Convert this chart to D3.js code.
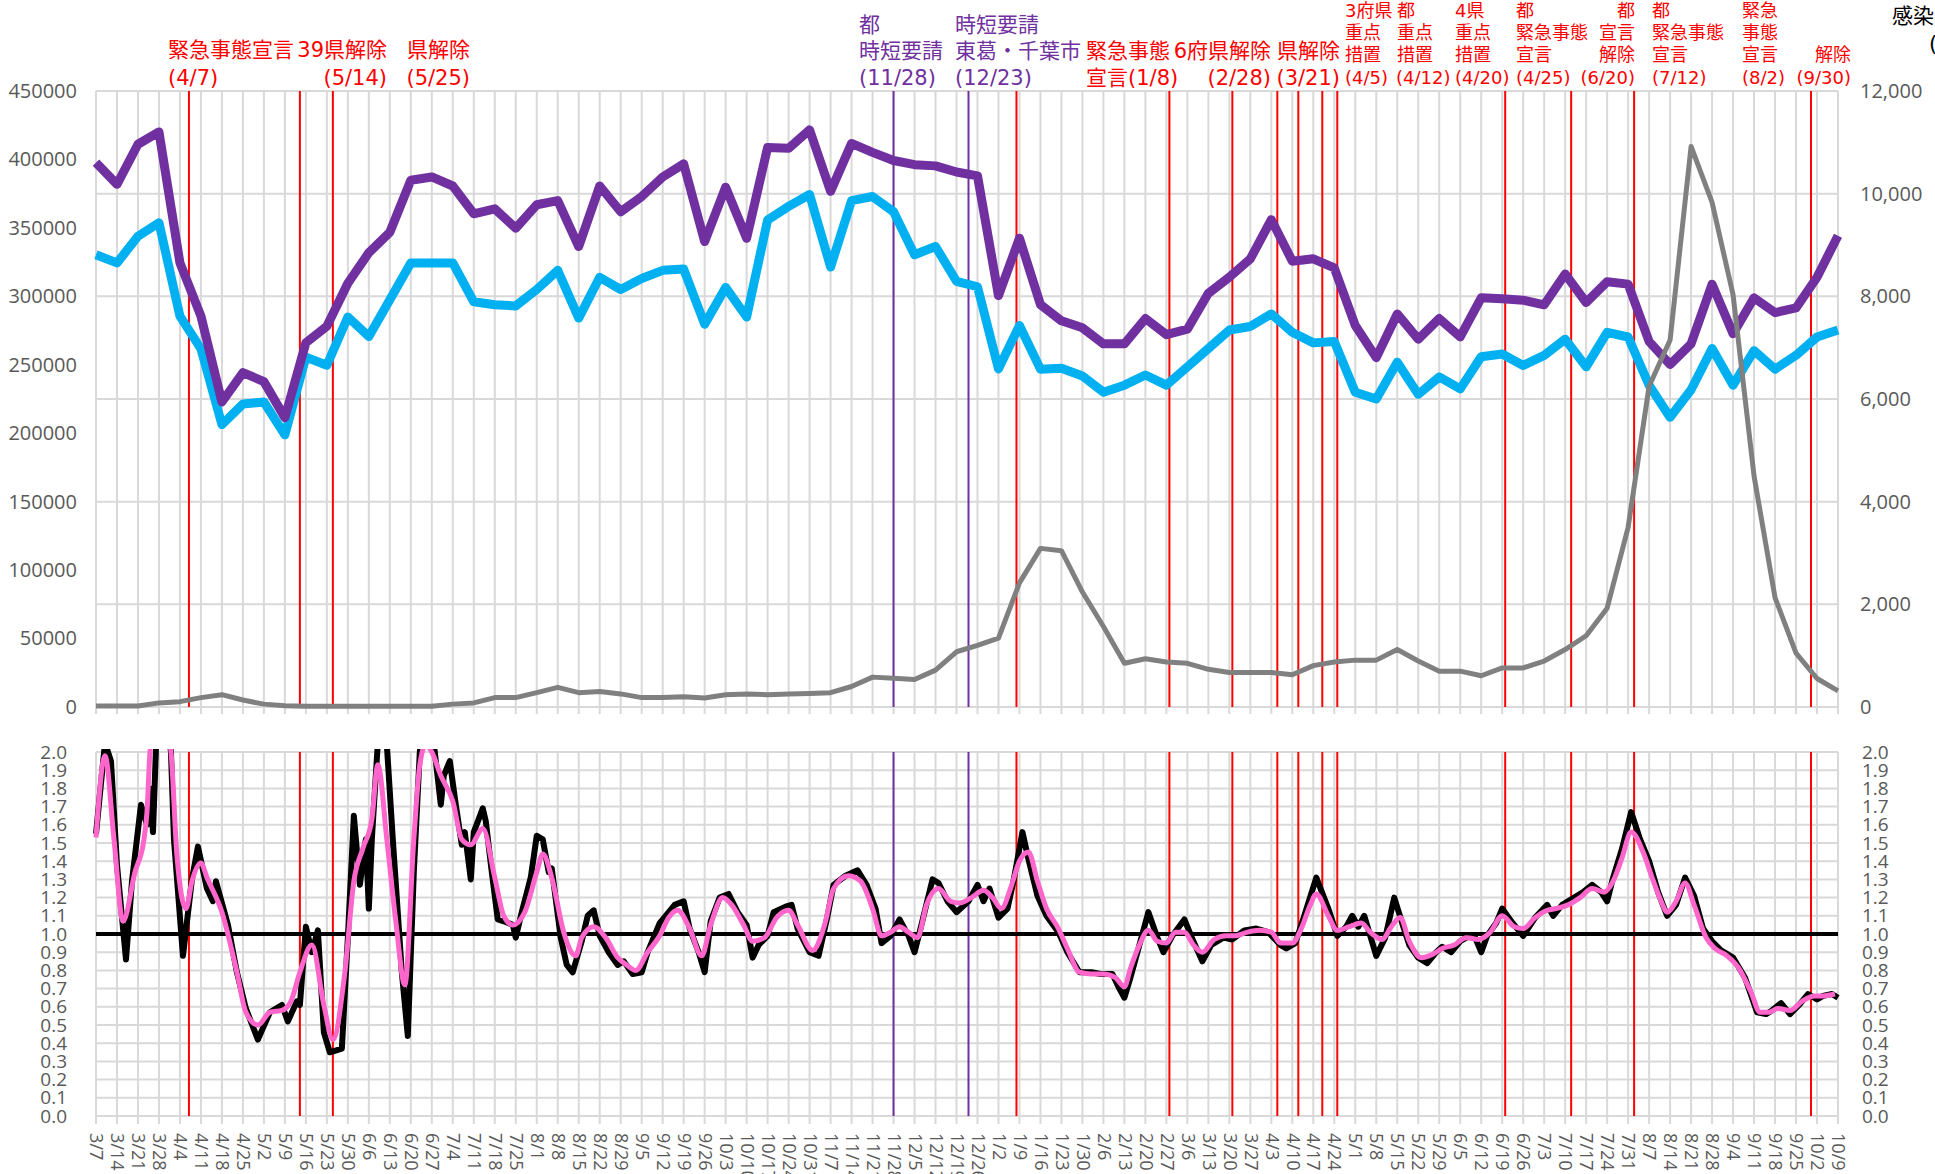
<!DOCTYPE html>
<html>
<head>
<meta charset="utf-8">
<style>
body { margin: 0; background: #fff; }
svg text { font-family: "DejaVu Sans", "Noto Sans CJK JP", sans-serif; }
.axis text { font-family: "Open Sans", sans-serif; fill: #595959; }
.grid line { stroke: #d9d9d9; stroke-width: 2px; }
</style>
<script src="https://d3js.org/d3.v7.min.js"></script>
</head>
<body>
<script>
// weekly series, first week 2020-03-07, last 2021-10-09
var startDate = new Date(2020, 2, 7);
var nWeeks = 84;

// purple line (left axis)
var flowPurple = [397700, 381800, 411100, 420100, 324400, 285500, 222800, 244300, 237700, 211400,
  266100, 278100, 309500, 331900, 346800, 384800, 387200, 380600, 360300, 363900,
  349800, 366900, 369900, 336400, 380600, 361800, 372900, 387200, 396800, 340000,
  379700, 342400, 408700, 408100, 421600, 376700, 411700, 405200, 399200, 396200,
  395300, 390800, 388000, 300500, 342500, 293900, 282100, 277000, 265300, 265300,
  283800, 272000, 276000, 302200, 314000, 327400, 356000, 325700, 327400, 320700,
  278700, 255200, 287100, 268700, 283800, 270300, 298900, 298200, 297200, 293800,
  316300, 295500, 310600, 308900, 267000, 250200, 265300, 308900, 272700, 298900,
  288100, 291500, 314000, 344200];

// blue line (left axis)
var flowBlue = [330400, 324400, 343900, 353700, 285500, 261600, 206300, 221300, 222800, 198800,
  255600, 249700, 284900, 270600, 297500, 324400, 324400, 324400, 296000, 293900,
  293000, 305000, 319000, 284100, 313900, 305000, 313000, 319000, 319900, 279600,
  306500, 284900, 355800, 365700, 374400, 321400, 369900, 372900, 361800, 330400,
  336400, 311000, 307000, 247000, 278700, 246800, 247500, 241800, 230000, 235100,
  242500, 235100, 248500, 261900, 275400, 278000, 287100, 273700, 266000, 267000,
  230000, 225000, 251900, 228400, 241100, 232400, 255900, 257900, 249500, 256900,
  268700, 248500, 273700, 270300, 235100, 211600, 231700, 261900, 235100, 260300,
  246800, 256900, 270300, 275400];

// gray line (right axis, cases)
var cases = [20, 20, 20, 80, 104, 183, 240, 136, 56, 24,
  15, 15, 15, 15, 15, 15, 15, 56, 80, 183,
  183, 279, 383, 279, 303, 255, 183, 183, 199, 175,
  240, 255, 240, 255, 263, 279, 399, 582, 558, 534,
  718, 1076, 1200, 1343, 2418, 3090, 3045, 2239, 1567, 851,
  940, 878, 851, 734, 672, 672, 672, 627, 806, 878,
  913, 913, 1119, 896, 698, 698, 609, 761, 761, 896,
  1119, 1388, 1925, 3500, 6250, 7150, 10920, 9830, 8030, 4500,
  2130, 1050, 555, 313];

// lower chart: [day since 2020-03-07, value]
var rtDaily = [[0,1.55],[3,2.05],[5,1.95],[7,1.38],[10,0.86],[12,1.29],[15,1.71],[17,1.6],[18,1.8],[19,1.56],
  [20,2.02],[22,2.4],[25,2.0],[26,1.52],[29,0.88],[32,1.3],[34,1.48],[37,1.25],[39,1.18],[40,1.29],
  [44,1.05],[47,0.79],[50,0.59],[54,0.42],[58,0.57],[62,0.61],[64,0.52],[67,0.63],[68,0.61],[70,1.04],
  [72,0.9],[74,1.02],[76,0.46],[78,0.35],[82,0.37],[84,0.98],[86,1.65],[88,1.27],[90,1.52],[91,1.14],
  [92,1.52],[94,2.05],[96,2.3],[99,1.52],[102,0.79],[104,0.44],[106,1.34],[108,2.0],[110,2.3],[113,2.0],
  [115,1.71],[116,1.87],[118,1.95],[120,1.71],[122,1.49],[123,1.56],[125,1.3],[126,1.56],[129,1.69],[130,1.62],
  [132,1.34],[134,1.08],[136,1.07],[139,1.05],[140,0.98],[142,1.12],[145,1.31],[147,1.54],[149,1.52],[151,1.34],
  [152,1.36],[155,0.98],[157,0.83],[159,0.79],[162,0.96],[164,1.1],[166,1.13],[168,0.99],[171,0.9],[174,0.83],
  [176,0.85],[179,0.78],[182,0.79],[184,0.9],[188,1.06],[190,1.1],[193,1.16],[196,1.18],[198,1.03],[201,0.9],
  [203,0.79],[205,1.07],[208,1.2],[211,1.22],[214,1.12],[217,1.05],[219,0.87],[221,0.94],[224,0.99],[226,1.12],
  [230,1.15],[232,1.16],[234,1.03],[238,0.9],[241,0.88],[244,1.1],[246,1.27],[250,1.32],[254,1.35],[257,1.27],
  [260,1.14],[262,0.95],[265,0.99],[268,1.08],[271,0.99],[273,0.9],[275,1.03],[279,1.3],[281,1.28],[284,1.18],
  [287,1.12],[291,1.18],[294,1.27],[296,1.18],[298,1.25],[301,1.09],[304,1.14],[306,1.29],[309,1.56],[311,1.41],
  [314,1.21],[317,1.1],[321,1.01],[324,0.9],[328,0.79],[332,0.79],[335,0.78],[339,0.78],[341,0.71],[343,0.65],
  [345,0.76],[348,0.94],[351,1.12],[354,0.98],[356,0.9],[359,0.99],[363,1.08],[366,0.96],[369,0.85],[372,0.94],
  [376,0.98],[379,0.97],[383,1.02],[387,1.03],[391,1.01],[395,0.94],[397,0.92],[400,0.95],[403,1.1],[407,1.31],
  [411,1.14],[414,0.99],[417,1.04],[419,1.1],[421,1.04],[423,1.1],[425,0.99],[427,0.88],[430,0.98],[433,1.2],
  [436,1.04],[438,0.94],[441,0.87],[444,0.84],[447,0.9],[449,0.93],[452,0.9],[455,0.96],[458,0.99],[460,0.98],
  [462,0.9],[464,0.99],[467,1.06],[469,1.14],[472,1.07],[474,1.03],[476,0.99],[480,1.09],[484,1.16],[486,1.1],
  [489,1.16],[493,1.2],[496,1.23],[499,1.27],[502,1.23],[504,1.18],[506,1.31],[509,1.47],[512,1.67],[515,1.52],
  [518,1.4],[521,1.23],[524,1.1],[527,1.16],[530,1.31],[533,1.21],[536,1.03],[539,0.96],[542,0.91],[546,0.87],
  [550,0.76],[554,0.57],[557,0.56],[559,0.58],[562,0.62],[565,0.56],[568,0.61],[571,0.67],[574,0.64],[576,0.66],
  [579,0.67],[581,0.65]];

var rtSmooth = [[0,1.53],[3,1.98],[6,1.52],[9,1.07],[13,1.34],[16,1.52],[17,1.67],[18,2.0],[21,2.3],[25,2.0],
  [27,1.43],[30,1.14],[32,1.29],[35,1.39],[37,1.31],[42,1.12],[47,0.79],[50,0.57],[54,0.5],[58,0.57],
  [62,0.58],[65,0.63],[68,0.79],[72,0.94],[76,0.61],[79,0.42],[83,0.79],[86,1.29],[89,1.47],[92,1.63],
  [94,1.93],[97,1.52],[100,1.07],[103,0.72],[106,1.52],[108,1.93],[110,2.04],[112,2.0],[115,1.87],[119,1.73],
  [122,1.52],[125,1.49],[129,1.58],[133,1.31],[136,1.1],[139,1.05],[143,1.12],[147,1.34],[149,1.44],[152,1.31],
  [156,1.01],[160,0.88],[162,0.98],[166,1.04],[170,0.98],[174,0.87],[177,0.83],[180,0.8],[184,0.9],[188,0.99],
  [191,1.09],[194,1.13],[198,1.03],[202,0.88],[205,1.05],[209,1.2],[212,1.16],[216,1.05],[219,0.96],[223,0.98],
  [227,1.09],[231,1.13],[234,1.05],[239,0.91],[243,1.05],[246,1.25],[251,1.32],[255,1.29],[259,1.14],[262,0.99],
  [265,1.01],[268,1.04],[271,1.01],[274,0.98],[277,1.16],[281,1.25],[285,1.18],[288,1.17],[292,1.2],[296,1.24],
  [299,1.2],[302,1.14],[305,1.25],[308,1.4],[311,1.45],[314,1.29],[317,1.14],[321,1.03],[324,0.92],[328,0.79],
  [332,0.78],[336,0.78],[340,0.76],[343,0.71],[345,0.81],[348,0.94],[351,1.02],[354,0.96],[357,0.95],[360,1.01],
  [363,1.01],[366,0.94],[369,0.9],[373,0.97],[377,0.99],[380,0.99],[384,1.01],[388,1.02],[392,1.01],[395,0.95],
  [399,0.95],[402,1.03],[405,1.16],[407,1.22],[411,1.1],[414,1.02],[418,1.04],[422,1.06],[425,1.01],[429,0.97],
  [432,1.04],[435,1.09],[438,0.96],[442,0.87],[446,0.89],[449,0.92],[453,0.94],[457,0.98],[461,0.97],[465,1.01],
  [469,1.1],[473,1.04],[476,1.03],[480,1.09],[484,1.13],[487,1.14],[491,1.16],[495,1.2],[499,1.25],[503,1.23],
  [506,1.29],[509,1.42],[512,1.56],[516,1.45],[519,1.31],[522,1.18],[524,1.12],[527,1.18],[530,1.28],[533,1.16],
  [537,0.98],[540,0.92],[544,0.88],[548,0.81],[552,0.68],[555,0.57],[558,0.57],[561,0.59],[565,0.58],[569,0.63],
  [573,0.66],[576,0.66],[580,0.67]];

// event lines
var redEvents = ["2020-04-07", "2020-05-14", "2020-05-25", "2021-01-08", "2021-02-28", "2021-03-21",
  "2021-04-05", "2021-04-12", "2021-04-20", "2021-04-25", "2021-06-20", "2021-07-12", "2021-08-02", "2021-09-30"];
var purpleEvents = ["2020-11-28", "2020-12-23"];

// annotation text [text, x, y, anchor, size, color]
var RED = "#ff0000", PUR = "#7030a0";
var notes = [
  ["緊急事態宣言", 168, 57, "start", 21, RED], ["(4/7)", 168, 85, "start", 21, RED],
  ["39県解除", 387, 57, "end", 21, RED], ["(5/14)", 387, 85, "end", 21, RED],
  ["県解除", 470, 57, "end", 21, RED], ["(5/25)", 470, 85, "end", 21, RED],
  ["都", 859, 32, "start", 21, PUR], ["時短要請", 859, 58, "start", 21, PUR], ["(11/28)", 859, 85, "start", 21, PUR],
  ["時短要請", 955, 32, "start", 21, PUR], ["東葛・千葉市", 955, 58, "start", 21, PUR], ["(12/23)", 955, 85, "start", 21, PUR],
  ["緊急事態", 1086, 58, "start", 21, RED], ["宣言(1/8)", 1086, 85, "start", 21, RED],
  ["6府県解除", 1271, 58, "end", 21, RED], ["(2/28)", 1271, 85, "end", 21, RED],
  ["県解除", 1340, 58, "end", 21, RED], ["(3/21)", 1340, 85, "end", 21, RED],
  ["3府県", 1345, 17, "start", 18, RED], ["重点", 1345, 39, "start", 18, RED], ["措置", 1345, 61, "start", 18, RED], ["(4/5)", 1345, 84, "start", 18, RED],
  ["都", 1397, 17, "start", 18, RED], ["重点", 1397, 39, "start", 18, RED], ["措置", 1397, 61, "start", 18, RED], ["(4/12)", 1396, 84, "start", 18, RED],
  ["4県", 1455, 17, "start", 18, RED], ["重点", 1455, 39, "start", 18, RED], ["措置", 1455, 61, "start", 18, RED], ["(4/20)", 1455, 84, "start", 18, RED],
  ["都", 1516, 17, "start", 18, RED], ["緊急事態", 1516, 39, "start", 18, RED], ["宣言", 1516, 61, "start", 18, RED], ["(4/25)", 1516, 84, "start", 18, RED],
  ["都", 1635, 17, "end", 18, RED], ["宣言", 1635, 39, "end", 18, RED], ["解除", 1635, 61, "end", 18, RED], ["(6/20)", 1635, 84, "end", 18, RED],
  ["都", 1652, 17, "start", 18, RED], ["緊急事態", 1652, 39, "start", 18, RED], ["宣言", 1652, 61, "start", 18, RED], ["(7/12)", 1652, 84, "start", 18, RED],
  ["緊急", 1742, 17, "start", 18, RED], ["事態", 1742, 39, "start", 18, RED], ["宣言", 1742, 61, "start", 18, RED], ["(8/2)", 1742, 84, "start", 18, RED],
  ["解除", 1851, 61, "end", 18, RED], ["(9/30)", 1851, 84, "end", 18, RED],
  ["感染者数", 1892, 23, "start", 21, "#000"], ["(人)", 1929, 51, "start", 21, "#000"]
];

var W = 1935, H = 1174;
var svg = d3.select("body").append("svg").attr("width", W).attr("height", H)
  .style("display", "block");

var weeks = d3.range(nWeeks).map(i => d3.timeDay.offset(startDate, 7 * i));
var dayDate = d => d3.timeDay.offset(startDate, d);
var parse = d3.timeParse("%Y-%m-%d");

var x = d3.scaleTime().domain([startDate, weeks[nWeeks - 1]]).range([96, 1838]);
var yL = d3.scaleLinear().domain([0, 450000]).range([707, 91]);
var yR = d3.scaleLinear().domain([0, 12000]).range([707, 91]);
var yB = d3.scaleLinear().domain([0, 2]).range([1116, 752]);

// ---- grids
var grid = svg.append("g").attr("class", "grid");
grid.selectAll(".vt").data(weeks).enter().append("line")
  .attr("x1", d => x(d)).attr("x2", d => x(d)).attr("y1", yR(12000)).attr("y2", 714);
grid.selectAll(".ht").data(d3.range(0, 12001, 2000)).enter().append("line")
  .attr("x1", x.range()[0]).attr("x2", x.range()[1]).attr("y1", d => yR(d)).attr("y2", d => yR(d));
grid.selectAll(".vb").data(weeks).enter().append("line")
  .attr("x1", d => x(d)).attr("x2", d => x(d)).attr("y1", yB(2)).attr("y2", 1124);
grid.selectAll(".hb").data(d3.range(0, 21)).enter().append("line")
  .attr("x1", x.range()[0]).attr("x2", x.range()[1]).attr("y1", d => yB(d / 10)).attr("y2", d => yB(d / 10));

// ---- event lines
function eventLines(list, color) {
  list.forEach(function(s) {
    var px = x(parse(s));
    svg.append("line").attr("x1", px).attr("x2", px).attr("y1", yR(12000)).attr("y2", yR(0))
      .attr("stroke", color).attr("stroke-width", 2);
    svg.append("line").attr("x1", px).attr("x2", px).attr("y1", yB(2)).attr("y2", yB(0))
      .attr("stroke", color).attr("stroke-width", 2);
  });
}
eventLines(redEvents, RED);
eventLines(purpleEvents, PUR);

// ---- axes
function styleAxis(g, size) {
  g.attr("class", "axis").select(".domain").remove();
  g.selectAll("text").attr("font-size", size);
}
svg.append("g").attr("transform", "translate(96,0)")
  .call(d3.axisLeft(yL).tickValues(d3.range(0, 450001, 50000)).tickSize(0).tickPadding(19).tickFormat(d3.format("d")))
  .call(g => styleAxis(g, 20));
svg.append("g").attr("transform", "translate(1838,0)")
  .call(d3.axisRight(yR).tickValues(d3.range(0, 12001, 2000)).tickSize(0).tickPadding(22).tickFormat(d3.format(",")))
  .call(g => styleAxis(g, 20));
svg.append("g").attr("transform", "translate(96,0)")
  .call(d3.axisLeft(yB).tickValues(d3.range(0, 21).map(d => d / 10)).tickSize(0).tickPadding(29).tickFormat(d3.format(".1f")))
  .call(g => styleAxis(g, 19));
svg.append("g").attr("transform", "translate(1838,0)")
  .call(d3.axisRight(yB).tickValues(d3.range(0, 21).map(d => d / 10)).tickSize(0).tickPadding(24).tickFormat(d3.format(".1f")))
  .call(g => styleAxis(g, 19));

var xAxis = svg.append("g").attr("transform", "translate(0,1116)")
  .call(d3.axisBottom(x).tickValues(weeks).tickSize(0).tickFormat(d => (d.getMonth() + 1) + "/" + d.getDate()));
styleAxis(xAxis, 18);
xAxis.selectAll("text")
  .attr("x", 0).attr("y", 0).attr("dy", "0.35em")
  .attr("transform", "translate(0,17) rotate(90)")
  .style("text-anchor", "start");

// ---- top lines
var lineL = d3.line().x((d, i) => x(weeks[i])).y(d => yL(d));
var lineR = d3.line().x((d, i) => x(weeks[i])).y(d => yR(d));
svg.append("path").datum(flowBlue).attr("d", lineL).attr("fill", "none")
  .attr("stroke", "#00b0f0").attr("stroke-width", 9).attr("stroke-linejoin", "round");
svg.append("path").datum(flowPurple).attr("d", lineL).attr("fill", "none")
  .attr("stroke", "#7030a0").attr("stroke-width", 9).attr("stroke-linejoin", "round");
svg.append("path").datum(cases).attr("d", lineR).attr("fill", "none")
  .attr("stroke", "#808080").attr("stroke-width", 5).attr("stroke-linejoin", "round");

// ---- bottom lines
svg.append("clipPath").attr("id", "clipB").append("rect")
  .attr("x", 90).attr("y", yB(2) - 3).attr("width", 1760).attr("height", yB(0) - yB(2) + 6);
var bottom = svg.append("g").attr("clip-path", "url(#clipB)");
bottom.append("line").attr("x1", x.range()[0]).attr("x2", x.range()[1])
  .attr("y1", yB(1)).attr("y2", yB(1)).attr("stroke", "#000").attr("stroke-width", 4);
var lineB = d3.line().x(d => x(dayDate(d[0]))).y(d => yB(d[1]));
bottom.append("path").datum(rtDaily).attr("d", lineB).attr("fill", "none")
  .attr("stroke", "#000").attr("stroke-width", 6).attr("stroke-linejoin", "round");
bottom.append("path").datum(rtSmooth).attr("d", lineB.curve(d3.curveMonotoneX)).attr("fill", "none")
  .attr("stroke", "#ff66cc").attr("stroke-width", 5).attr("stroke-linejoin", "round");

// ---- annotations
svg.selectAll(".note").data(notes).enter().append("text")
  .attr("x", d => d[1]).attr("y", d => d[2])
  .attr("text-anchor", d => d[3]).attr("font-size", d => d[4])
  .attr("fill", d => d[5])
  .text(d => d[0]);
</script>
</body>
</html>
